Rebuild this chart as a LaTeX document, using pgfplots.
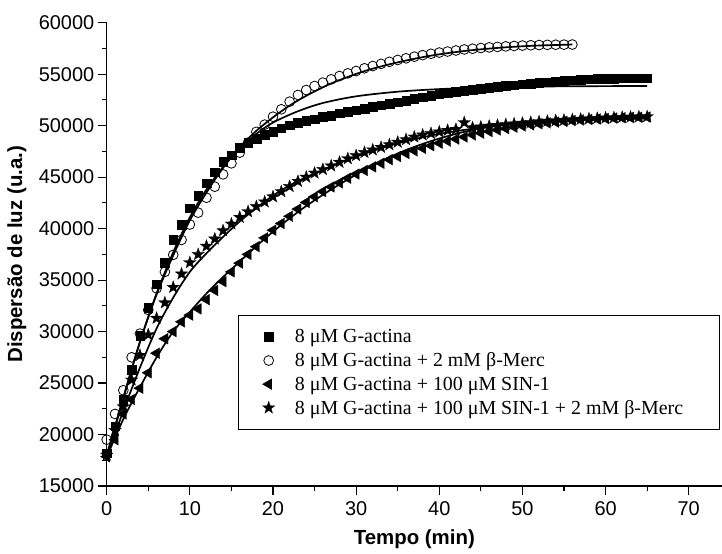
\documentclass[border=0pt]{standalone}
\usepackage{pgfplots}
\pgfplotsset{compat=1.18}
\usepackage{pgfplotstable}
\usepackage{fontspec}
\setmainfont{Liberation Sans}
\newfontfamily\serifleg{Liberation Serif}

\pgfdeclareplotmark{fivestar}{%
  \pgfpathmoveto{\pgfpointpolar{90}{\pgfplotmarksize}}%
  \pgfpathlineto{\pgfpointpolar{126}{0.40\pgfplotmarksize}}%
  \pgfpathlineto{\pgfpointpolar{162}{\pgfplotmarksize}}%
  \pgfpathlineto{\pgfpointpolar{198}{0.40\pgfplotmarksize}}%
  \pgfpathlineto{\pgfpointpolar{234}{\pgfplotmarksize}}%
  \pgfpathlineto{\pgfpointpolar{270}{0.40\pgfplotmarksize}}%
  \pgfpathlineto{\pgfpointpolar{306}{\pgfplotmarksize}}%
  \pgfpathlineto{\pgfpointpolar{342}{0.40\pgfplotmarksize}}%
  \pgfpathlineto{\pgfpointpolar{18}{\pgfplotmarksize}}%
  \pgfpathlineto{\pgfpointpolar{54}{0.40\pgfplotmarksize}}%
  \pgfpathclose
  \pgfusepathqfillstroke
}

% 8 uM G-actina (squares)
\pgfplotstableread{
x y
0 18200
1 20800
2 23400
3 26300
4 29600
5 32300
6 34600
7 36700
8 38900
9 40400
10 42000
11 43200
12 44400
13 45500
14 46500
15 47150
16 47850
17 48350
18 48750
19 49100
20 49400
21 49750
22 50050
23 50300
24 50500
25 50650
26 50850
27 51000
28 51200
29 51350
30 51500
31 51680
32 51840
33 52000
34 52150
35 52300
36 52450
37 52600
38 52750
39 52900
40 53050
41 53180
42 53300
43 53400
44 53500
45 53600
46 53700
47 53780
48 53860
49 53940
50 54020
51 54100
52 54170
53 54240
54 54300
55 54360
56 54410
57 54460
58 54500
59 54540
60 54570
61 54590
62 54600
63 54610
64 54620
65 54630
}\tabA

% + 2 mM beta-Merc (circles)
\pgfplotstableread{
x y
0 19500
1 22000
2 24300
3 27500
4 29800
5 32100
6 34200
7 35800
8 37450
9 38900
10 40400
11 41550
12 43000
13 44070
14 45270
15 46340
16 47380
17 48350
18 49400
19 50100
20 50870
21 51590
22 52330
23 52980
24 53460
25 53850
26 54180
27 54500
28 54820
29 55080
30 55310
31 55570
32 55790
33 56000
34 56200
35 56380
36 56540
37 56700
38 56850
39 56980
40 57100
41 57200
42 57300
43 57400
44 57470
45 57540
46 57600
47 57650
48 57700
49 57740
50 57780
51 57810
52 57830
53 57850
54 57860
55 57870
56 57880
}\tabB

% + 100 uM SIN-1 (triangles)
\pgfplotstableread{
x y
0 17850
1 19500
2 22000
3 23400
4 24500
5 26000
6 27900
7 29300
8 30000
9 30950
10 31600
11 32200
12 33100
13 34000
14 34850
15 35800
16 36650
17 37500
18 38250
19 39100
20 39850
21 40500
22 41200
23 41900
24 42550
25 43100
26 43600
27 44050
28 44450
29 44900
30 45300
31 45650
32 46000
33 46350
34 46700
35 47000
36 47300
37 47550
38 47800
39 48050
40 48300
41 48500
42 48700
43 48900
44 49100
45 49270
46 49430
47 49580
48 49720
49 49850
50 49970
51 50080
52 50180
53 50270
54 50350
55 50420
56 50490
57 50550
58 50600
59 50650
60 50700
61 50740
62 50770
63 50800
64 50820
65 50840
}\tabC

% + SIN-1 + beta-Merc (stars)
\pgfplotstableread{
x y
0 18000
1 20400
2 22700
3 25300
4 27700
5 29700
6 31300
7 32800
8 34300
9 35600
10 36700
11 37500
12 38300
13 39000
14 39800
15 40450
16 41100
17 41650
18 42150
19 42600
20 43100
21 43600
22 44100
23 44600
24 45000
25 45400
26 45750
27 46100
28 46450
29 46800
30 47100
31 47400
32 47650
33 47900
34 48150
35 48400
36 48650
37 48900
38 49100
39 49250
40 49400
41 49550
42 49650
43 50300
44 49800
45 49880
46 49960
47 50040
48 50110
49 50180
50 50250
51 50320
52 50380
53 50440
54 50490
55 50540
56 50590
57 50630
58 50670
59 50710
60 50750
61 50780
62 50810
63 50840
64 50860
65 50880
}\tabD

% fitted curves
\pgfplotstableread{
x y
0 17800
2 23500
4 29000
6 33700
8 37700
10 41100
12 43800
14 46000
16 47800
18 49200
20 50300
23 51400
26 52200
30 52850
35 53300
40 53550
45 53700
50 53780
55 53820
60 53840
65 53850
}\fitA
\pgfplotstableread{
x y
0 18000
2 23600
4 29000
6 33600
8 37400
10 40800
12 43500
14 45900
16 47900
18 49500
20 50800
22 51950
24 52900
27 54100
31 55300
35 56150
39 56800
43 57250
47 57550
51 57750
56 57880
}\fitB
\pgfplotstableread{
x y
0 17800
2 21500
4 24600
6 27500
8 30000
10 31900
12 33700
14 35300
16 36800
18 38300
20 39700
22 41000
24 42200
27 43800
31 45700
35 47300
39 48500
43 49400
47 50000
51 50350
55 50560
60 50680
65 50720
}\fitC
\pgfplotstableread{
x y
0 17800
2 22300
4 26500
6 30300
8 33300
10 35800
12 37600
14 39200
16 40700
18 42000
20 43200
22 44200
24 45000
26 45700
28 46400
30 47000
33 47800
36 48500
40 49200
44 49700
48 50050
52 50300
56 50480
60 50600
65 50700
}\fitD

\begin{document}
\begin{tikzpicture}
\useasboundingbox (-106.7bp,-68bp) rectangle (615.3bp,486bp);
\begin{axis}[
  scale only axis,
  width=615.3bp, height=463.3bp,
  xmin=0, xmax=74, ymin=15000, ymax=60000,
  axis lines=left,
  axis line style={-, line width=1.3bp},
  xtick={0,10,...,70},
  ytick={15000,20000,...,60000},
  minor x tick num=1, minor y tick num=1,
  tick align=outside,
  major tick length=9bp, minor tick length=5bp,
  every tick/.style={black, line width=1.1bp},
  scaled y ticks=false,
  /pgf/number format/1000 sep={},
  /pgf/number format/assume math mode=true,
  xticklabel style={font=\fontsize{20}{23}\selectfont, yshift=-3bp},
  yticklabel style={font=\fontsize{20}{23}\selectfont},
  xlabel={Tempo (min)},
  ylabel={Dispersão de luz (u.a.)},
  label style={font=\bfseries\fontsize{20.5}{24}\selectfont},
  xlabel style={at={(axis description cs:0.5,0)}, anchor=center, yshift=-53bp},
  ylabel style={at={(axis description cs:-0.146,0.5)}, anchor=center},
  clip=false,
  legend style={at={(axis description cs:0.2134,0.369)}, anchor=north west,
    draw=black, line width=1bp, inner xsep=24bp, inner ysep=14bp,
    font=\serifleg\fontsize{20}{24}\selectfont,
    nodes={inner sep=0bp}, row sep=8.5bp, column sep=20bp},
  legend cell align=left,
]
\addplot[only marks, mark=square*, mark size=4.3bp, mark options={fill=black, draw=black, line width=0.3bp}] table {\tabA};
\addlegendentry{8 μM G-actina}
\addplot[only marks, mark=o, mark size=4.9bp, mark options={draw=black, line width=0.8bp}] table {\tabB};
\addlegendentry{8 μM G-actina + 2 mM β-Merc}
\addplot[only marks, mark=triangle*, mark size=6.2bp, mark options={rotate=90, fill=black, draw=black, line width=0.3bp}] table {\tabC};
\addlegendentry{8 μM G-actina + 100 μM SIN-1}
\addplot[only marks, mark=fivestar, mark size=6.5bp, mark options={fill=black, draw=black, line width=0.3bp}] table {\tabD};
\addlegendentry{8 μM G-actina + 100 μM SIN-1 + 2 mM β-Merc\hspace*{12bp}}
\addplot[forget plot, smooth, black, line width=1.7bp] table {\fitA};
\addplot[forget plot, smooth, black, line width=1.7bp] table {\fitB};
\addplot[forget plot, smooth, black, line width=1.7bp] table {\fitC};
\addplot[forget plot, smooth, black, line width=1.7bp] table {\fitD};
\end{axis}
\end{tikzpicture}
\end{document}
